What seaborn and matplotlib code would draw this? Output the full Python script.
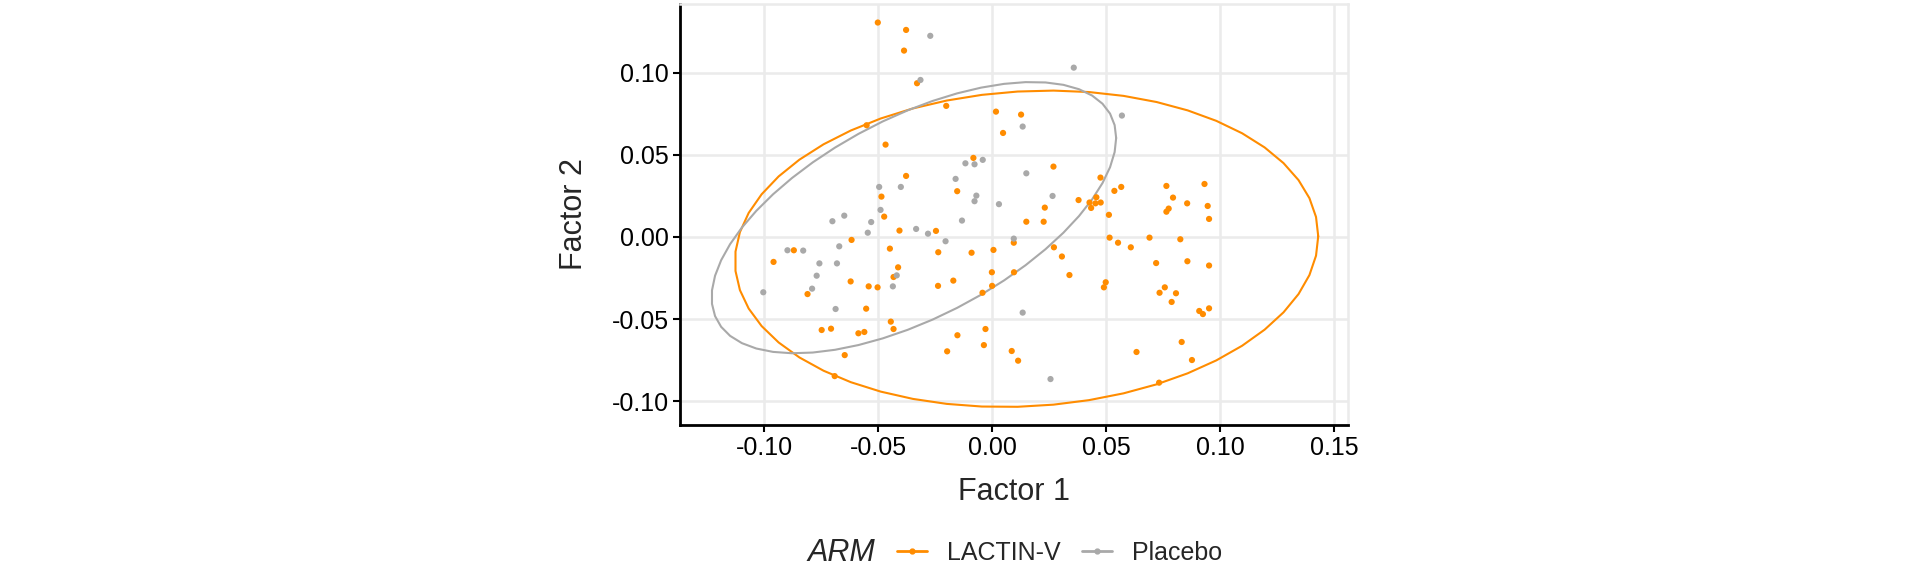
import matplotlib
matplotlib.use("Agg")
import matplotlib.pyplot as plt
from matplotlib.lines import Line2D
import seaborn as sns
import numpy as np
import pandas as pd

# factor scores
lactin_x = [-0.0501, -0.0377, -0.0386, -0.0329, -0.0201, -0.055, 0.0017, 0.0127, 0.0048, -0.0467,
            -0.0082, 0.0269, -0.0377, -0.0485, -0.0153, 0.0379, 0.0475, 0.0536, 0.0566, 0.0764,
            0.0931, 0.0793, 0.0457, 0.0427, 0.0453, 0.0476, 0.0434, 0.0855, 0.0945, 0.0764,
            0.0774, 0.0951, 0.0231, 0.015, 0.0226, 0.0512, 0.0095, 0.0515, 0.0552, 0.0608,
            0.069, 0.0825, 0.0271, 0.0306, 0.0719, 0.0856, 0.0951, 0.0339, 0.0096, 0.0498,
            0.049, 0.0734, 0.0757, 0.0806, 0.0787, 0.0908, 0.0924, 0.0951, 0.0086, 0.0114,
            0.0633, 0.0831, 0.0876, 0.0732, -0.0473, -0.0406, -0.0246, -0.0616, -0.0869, -0.0958,
            -0.0448, -0.0236, -0.009, 0.0006, -0.0412, -0.0001, -0.0432, -0.017, -0.062, -0.0809,
            -0.0541, -0.0502, -0.0237, 0.0, -0.0042, -0.0552, -0.0444, -0.0432, -0.0747, -0.0706,
            -0.0586, -0.056, -0.0152, -0.0029, -0.0036, -0.0197, -0.0646, -0.069]
lactin_y = [0.1307, 0.1262, 0.1136, 0.0937, 0.0799, 0.0681, 0.0764, 0.0746, 0.0634, 0.0563,
            0.0482, 0.0429, 0.0372, 0.0246, 0.0279, 0.0225, 0.0362, 0.0281, 0.0305, 0.0311,
            0.0323, 0.024, 0.0242, 0.021, 0.0205, 0.021, 0.0177, 0.0205, 0.0189, 0.0154,
            0.0173, 0.011, 0.0179, 0.0093, 0.0093, 0.0135, -0.0035, -0.0004, -0.0035, -0.0063,
            -0.0004, -0.0014, -0.0063, -0.0119, -0.0159, -0.0148, -0.0174, -0.0232, -0.0215, -0.0276,
            -0.0307, -0.034, -0.0307, -0.0343, -0.0396, -0.0451, -0.047, -0.0435, -0.0695, -0.0754,
            -0.0701, -0.064, -0.075, -0.0888, 0.0124, 0.0039, 0.0037, -0.0018, -0.0081, -0.0152,
            -0.0071, -0.0093, -0.0096, -0.0079, -0.0185, -0.0215, -0.0244, -0.0266, -0.0271, -0.0348,
            -0.0301, -0.0307, -0.0298, -0.0298, -0.034, -0.0437, -0.0516, -0.0561, -0.0567, -0.0559,
            -0.0587, -0.0579, -0.0599, -0.0561, -0.0659, -0.0697, -0.072, -0.0848]

placebo_x = [-0.0271, -0.0314, 0.0358, 0.0134, -0.0117, -0.0077, -0.0041, 0.015, -0.0495, -0.04,
             -0.016, -0.0069, 0.0265, 0.0569, -0.0077, -0.0489, 0.003, -0.07, -0.0648, -0.053,
             -0.0545, -0.0132, -0.0333, -0.0281, -0.0204, 0.0095, -0.0897, -0.0828, -0.067, -0.0757,
             -0.068, -0.0769, -0.0418, -0.1003, -0.0789, -0.0435, -0.0686, 0.0134, 0.0256]
placebo_y = [0.1226, 0.0957, 0.1032, 0.0673, 0.0449, 0.0443, 0.047, 0.0388, 0.0305, 0.0305,
             0.0354, 0.0252, 0.025, 0.074, 0.0218, 0.0165, 0.02, 0.0096, 0.013, 0.0091,
             0.0026, 0.01, 0.0049, 0.002, -0.0026, -0.001, -0.0081, -0.0083, -0.0057, -0.0161,
             -0.0161, -0.0236, -0.0234, -0.0337, -0.0315, -0.0301, -0.0439, -0.0461, -0.0866]

arms = ["LACTIN-V", "Placebo"]
colors = {"LACTIN-V": "#FF8C00", "Placebo": "#A9A9A9"}

df = pd.DataFrame({
    "Factor 1": lactin_x + placebo_x,
    "Factor 2": lactin_y + placebo_y,
    "ARM": ["LACTIN-V"] * len(lactin_x) + ["Placebo"] * len(placebo_x),
})


def stat_ellipse(x, y, level=0.95, segments=51, nu=5):
    # same as ggplot2 stat_ellipse(type="t"): robust cov (cov.trob) + F quantile
    X = np.column_stack([x, y])
    n, p = X.shape
    loc = X.mean(axis=0)
    w = np.ones(n)
    for _ in range(25):
        w0 = w
        Xc = X - loc
        cov = (Xc * (w / w.sum())[:, None]).T @ Xc
        Q = np.einsum("ij,jk,ik->i", Xc, np.linalg.inv(cov), Xc)
        w = (nu + p) / (nu + Q)
        loc = (w[:, None] * X).sum(axis=0) / w.sum()
        if np.all(np.abs(w - w0) < 0.01):
            break
    sw = np.sqrt(w)[:, None] * Xc
    cov = sw.T @ sw / n
    d = n - 1
    fq = d / 2 * ((1 - level) ** (-2 / d) - 1)
    radius = np.sqrt(2 * fq)
    ang = np.linspace(0, 2 * np.pi, segments + 1)
    circle = np.column_stack([np.cos(ang), np.sin(ang)])
    R = np.linalg.cholesky(cov).T
    e = loc + radius * circle @ R
    return e[:, 0], e[:, 1]


sns.set_style("white")
plt.rcParams["font.family"] = ["Liberation Sans", "DejaVu Sans"]

fig = plt.figure(figsize=(19.2, 5.76), dpi=100)
ax = fig.add_axes([680 / 1920, 1 - 425 / 576, 668 / 1920, 421 / 576])

for arm in arms:
    sub = df[df["ARM"] == arm]
    ex, ey = stat_ellipse(sub["Factor 1"].values, sub["Factor 2"].values)
    ax.plot(ex, ey, color=colors[arm], lw=1.5, zorder=2)

sns.scatterplot(data=df, x="Factor 1", y="Factor 2", hue="ARM", palette=colors,
                s=20, linewidth=0, legend=False, ax=ax, zorder=3)

ax.set_xlim(-0.1368, 0.156)
ax.set_ylim(-0.1146, 0.142)
ax.set_xticks([-0.10, -0.05, 0.00, 0.05, 0.10, 0.15])
ax.set_yticks([-0.10, -0.05, 0.00, 0.05, 0.10])
ax.xaxis.set_major_formatter(matplotlib.ticker.FormatStrFormatter("%.2f"))
ax.yaxis.set_major_formatter(matplotlib.ticker.FormatStrFormatter("%.2f"))
ax.grid(True, color="#EBEBEB", lw=1.8)
ax.set_axisbelow(True)
for s in ["top", "right"]:
    ax.spines[s].set_color("#EBEBEB")
    ax.spines[s].set_linewidth(1.8)
for s in ["left", "bottom"]:
    ax.spines[s].set_color("black")
    ax.spines[s].set_linewidth(2)
ax.tick_params(axis="both", length=5, width=1.5, color="black", labelsize=18,
               labelcolor="black", bottom=True, left=True, pad=3)

ax.set_xlabel("Factor 1", fontsize=22, va="center")
ax.set_ylabel("Factor 2", fontsize=22, va="center")
ax.xaxis.set_label_coords(0.5, -0.159)
ax.yaxis.set_label_coords(-0.159, 0.5)

handles = [Line2D([0], [0], color=colors[a], lw=2, marker="o", markersize=3.5) for a in arms]
fig.text(807 / 1920, 0.04, "ARM", fontsize=22, style="italic", va="center", ha="left")
fig.legend(handles, arms, loc="center left", bbox_to_anchor=(897 / 1920, 0.04), ncol=2,
           frameon=False, fontsize=18, handlelength=1.2, handletextpad=0.8,
           columnspacing=0.85, borderpad=0, borderaxespad=0)

fig.savefig("out.png", dpi=100, facecolor="white")
